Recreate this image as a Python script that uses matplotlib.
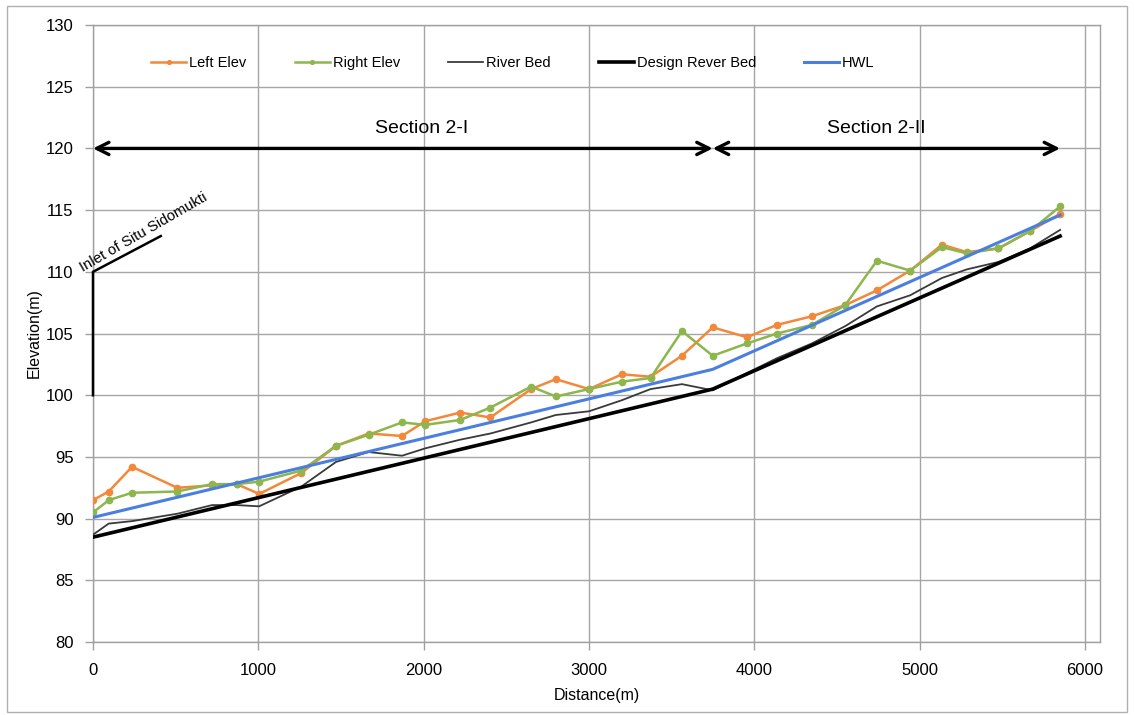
import matplotlib
matplotlib.use("Agg")
import matplotlib.pyplot as plt
from matplotlib.patches import Rectangle

plt.rcParams['font.family'] = ['Liberation Sans', 'DejaVu Sans']

# Survey stations along the channel (m)
distance = [0, 95, 236, 510, 720, 870, 1005, 1260, 1470, 1667, 1869, 2010,
            2221, 2403, 2650, 2799, 3000, 3199, 3372, 3562, 3748, 3955,
            4136, 4348, 4549, 4741, 4942, 5134, 5285, 5476, 5667, 5849]

left_elev = [91.5, 92.2, 94.2, 92.5, 92.7, 92.8, 92.0, 93.7, 95.9, 96.9, 96.7,
             97.9, 98.6, 98.2, 100.5, 101.3, 100.5, 101.7, 101.5, 103.2, 105.5,
             104.7, 105.7, 106.4, 107.3, 108.5, 110.1, 112.2, 111.6, 111.9,
             113.3, 114.7]

right_elev = [90.5, 91.5, 92.1, 92.2, 92.8, 92.8, 93.0, 93.9, 95.9, 96.8, 97.8,
              97.6, 98.0, 99.0, 100.7, 99.9, 100.5, 101.1, 101.4, 105.2, 103.2,
              104.2, 105.0, 105.7, 107.3, 110.9, 110.1, 112.0, 111.5, 111.9,
              113.3, 115.3]

river_bed = [88.7, 89.6, 89.8, 90.4, 91.1, 91.1, 91.0, 92.6, 94.6, 95.4, 95.1,
             95.7, 96.4, 96.9, 97.8, 98.4, 98.7, 99.6, 100.5, 100.9, 100.4,
             101.8, 103.0, 104.2, 105.6, 107.2, 108.1, 109.5, 110.2, 110.8,
             111.9, 113.4]

# Design bed and high water level break points
design_dist = [0, 3748, 5849]
design_bed = [88.5, 100.5, 112.9]
hwl_dist = [0, 3748, 5849]
hwl = [90.1, 102.1, 114.6]

# Section limits along the channel
section_bounds = [0, 3748, 5849]
section_names = ["Section 2-I", "Section 2-II"]
section_label_x = [1985, 4736]
section_level = 120

x_ticks = [0, 1000, 2000, 3000, 4000, 5000, 6000]
y_ticks = [80, 85, 90, 95, 100, 105, 110, 115, 120, 125, 130]

fig = plt.figure(figsize=(11.34, 7.15), dpi=100)
ax = fig.add_axes([0.082, 0.102, 0.888, 0.863])

ax.plot(distance, left_elev, color='#F4883A', lw=1.8, marker='o', ms=4.5,
        label='Left Elev', zorder=3)
ax.plot(distance, right_elev, color='#8DB64C', lw=1.8, marker='o', ms=4.5,
        label='Right Elev', zorder=3)
ax.plot(distance, river_bed, color='#3a3a3a', lw=1.3, label='River Bed', zorder=4)
ax.plot(design_dist, design_bed, color='black', lw=2.6, label='Design Rever Bed',
        zorder=4)
ax.plot(hwl_dist, hwl, color='#4A7FE0', lw=2.2, label='HWL', zorder=5)

# Section extent arrows
for x0, x1, name, xm in zip(section_bounds[:-1], section_bounds[1:],
                             section_names, section_label_x):
    ax.annotate('', xy=(x1, section_level), xytext=(x0, section_level),
                arrowprops=dict(arrowstyle='<->', color='black', lw=2.4,
                                mutation_scale=22, shrinkA=0, shrinkB=0),
                zorder=6)
    ax.text(xm, 121.6, name, ha='center', va='center', fontsize=14)

# Inlet marker
ax.plot([0, 0, 410], [100, 110, 112.9], color='black', lw=1.8, zorder=6,
        clip_on=False)
ax.text(-50, 109.8, 'Inlet of Situ Sidomukti', rotation=30, fontsize=10.7,
        ha='left', va='bottom', rotation_mode='anchor')

ax.set_xlim(0, 6090)
ax.set_ylim(80, 130)
ax.set_xticks(x_ticks)
ax.set_yticks(y_ticks)
ax.tick_params(axis='both', labelsize=12, length=6, color='#a0a0a0', width=1)
ax.tick_params(axis='y', pad=8)
ax.tick_params(axis='x', pad=9)
ax.grid(True, color='#a6a6a6', lw=1.0)
ax.set_axisbelow(True)
for s in ax.spines.values():
    s.set_color('#a0a0a0')
    s.set_linewidth(1.0)

ax.set_xlabel('Distance(m)', fontsize=11.5, labelpad=7)
ax.set_ylabel('Elevation(m)', fontsize=11.5, labelpad=3)

leg = ax.legend(loc='center left', bbox_to_anchor=(0.045, 0.939), ncol=5,
                frameon=False, fontsize=10.5, handlelength=2.4,
                handletextpad=0.2, columnspacing=3.3, markerscale=0.6)

# Outer frame
fig.patches.append(Rectangle((0.006, 0.004), 0.988, 0.988, transform=fig.transFigure,
                             fill=False, edgecolor='#b0b0b0', lw=1.0))

fig.savefig('out.png', dpi=100)
